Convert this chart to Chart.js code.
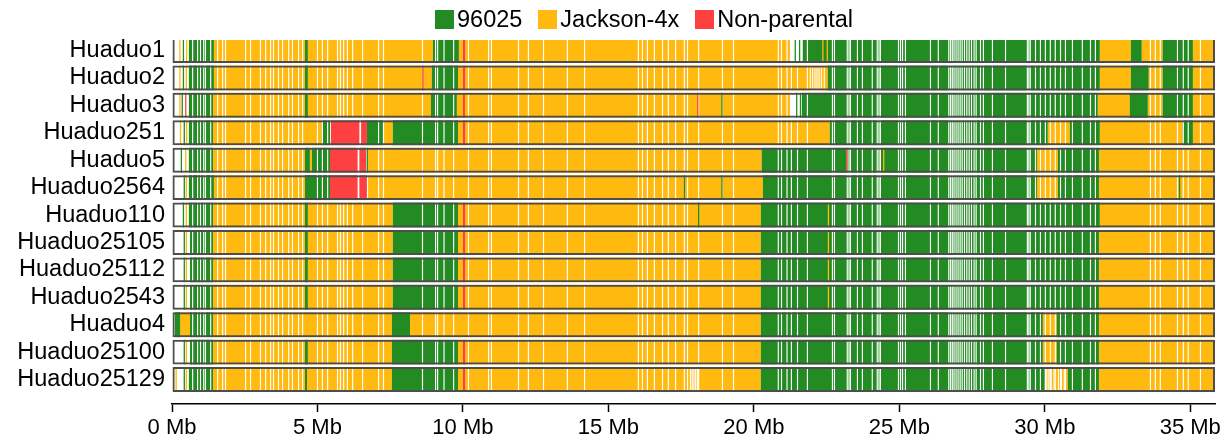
<!DOCTYPE html>
<html>
<head>
<meta charset="utf-8">
<title>Genotype map</title>
<script src="https://cdn.jsdelivr.net/npm/chart.js@4.4.1/dist/chart.umd.min.js"></script>
<style>
  html, body { margin: 0; padding: 0; background: #fff; }
  #wrap { position: relative; width: 1227px; height: 445px; }
  #legend {
    position: absolute; top: 6px; left: 435px;
    display: flex; align-items: center; white-space: nowrap;
    font-family: "Liberation Sans", Arial, sans-serif; font-size: 23.5px; color: #000;
  }
  .item { display: flex; align-items: center; margin-right: 16px; }
  .box { width: 19px; height: 19px; margin-right: 3px; }
</style>
</head>
<body>
<div id="wrap">
  <canvas id="chart" width="1227" height="445"></canvas>
  <div id="legend"></div>
</div>
<script>
// ---- data -------------------------------------------------------------
const samples = ['Huaduo1', 'Huaduo2', 'Huaduo3', 'Huaduo251', 'Huaduo5', 'Huaduo2564',
  'Huaduo110', 'Huaduo25105', 'Huaduo25112', 'Huaduo2543', 'Huaduo4', 'Huaduo25100', 'Huaduo25129'];
const genotypes = ['96025', 'Jackson-4x', 'Non-parental'];
const chromLength = 35.85;          // Mb
const tickMb = [0, 5, 10, 15, 20, 25, 30, 35];

// haplotype blocks: [line index, start Mb, end Mb]
const blocks96025 = [
  [0,0.58,1.44],[0,4.57,4.67],[0,8.97,9.86],[0,21.68,31.89],[0,32.96,33.33],[0,34.05,35.09],
  [1,0.58,1.44],[1,4.57,4.67],[1,8.93,9.83],[1,22.54,31.89],[1,32.96,33.57],[1,34.05,35.09],
  [2,0.58,1.41],[2,4.57,4.67],[2,8.90,9.79],[2,21.65,31.82],[2,32.92,33.54],[2,34.05,35.09],
  [3,0.58,1.41],[3,5.15,5.43],[3,6.70,7.25],[3,7.59,9.83],[3,22.61,30.10],[3,30.86,31.89],[3,34.74,35.09],
  [4,0.58,1.41],[4,4.57,4.74],[4,4.81,5.43],[4,20.27,29.73],[4,30.45,31.86],
  [5,0.58,1.44],[5,4.57,5.43],[5,20.31,29.73],[5,30.45,31.86],
  [6,0.58,1.41],[6,4.57,4.67],[6,7.59,9.83],[6,20.24,31.89],
  [7,0.62,1.41],[7,4.57,4.67],[7,7.59,9.83],[7,20.24,31.86],
  [8,0.62,1.41],[8,4.57,4.67],[8,7.59,9.83],[8,20.24,31.86],
  [9,0.62,1.41],[9,4.57,4.67],[9,7.59,9.83],[9,20.24,31.86],
  [10,0.10,0.28],[10,0.62,1.41],[10,7.56,8.18],[10,20.24,29.93],[10,30.41,31.86],
  [11,0.62,1.41],[11,4.57,4.67],[11,7.56,9.83],[11,20.24,29.93],[11,30.41,31.86],
  [12,0.58,1.41],[12,4.57,4.64],[12,7.56,9.83],[12,20.24,30.00],[12,30.79,31.86]
];
const blocksJackson = [
  [0,1.44,4.57],[0,4.67,8.97],[0,9.86,10.00],[0,10.08,21.24],[0,31.89,32.96],[0,33.33,34.05],[0,35.09,35.85],
  [1,1.44,4.57],[1,4.67,8.93],[1,9.83,10.00],[1,10.08,22.54],[1,31.89,32.96],[1,33.57,34.05],[1,35.09,35.85],
  [2,1.41,4.57],[2,4.67,8.90],[2,9.79,10.00],[2,10.07,21.24],[2,31.82,32.92],[2,33.54,34.05],[2,35.09,35.85],
  [3,1.41,5.15],[3,7.25,7.59],[3,9.83,10.00],[3,10.08,22.61],[3,30.10,30.86],[3,31.89,34.74],[3,35.09,35.85],
  [4,1.41,4.57],[4,4.74,4.81],[4,6.72,20.27],[4,29.73,30.45],[4,31.86,35.85],
  [5,1.44,4.57],[5,6.74,20.31],[5,29.73,30.45],[5,31.86,35.85],
  [6,1.41,4.57],[6,4.67,7.59],[6,9.83,10.00],[6,10.08,20.24],[6,31.89,35.85],
  [7,1.41,4.57],[7,4.67,7.59],[7,9.83,10.00],[7,10.08,20.24],[7,31.86,35.85],
  [8,1.41,4.57],[8,4.67,7.59],[8,9.83,10.00],[8,10.08,20.24],[8,31.86,35.85],
  [9,1.41,4.57],[9,4.67,7.59],[9,9.83,10.00],[9,10.08,20.24],[9,31.86,35.85],
  [10,0.28,0.62],[10,1.41,7.56],[10,8.18,20.24],[10,29.93,30.41],[10,31.86,35.85],
  [11,1.41,4.57],[11,4.67,7.56],[11,9.83,10.00],[11,10.08,20.24],[11,29.93,30.41],[11,31.86,35.85],
  [12,1.41,4.57],[12,4.64,7.56],[12,9.83,10.00],[12,10.08,20.24],[12,30.00,30.79],[12,31.86,35.85]
];
const blocksNonParental = [
  [0,10.00,10.08],[1,10.00,10.08],[2,10.00,10.07],
  [3,5.46,6.44],[3,6.50,6.70],[3,10.00,10.08],
  [4,5.43,6.38],[4,6.44,6.67],
  [5,5.43,6.38],[5,6.44,6.70],
  [6,10.00,10.08],[7,10.00,10.08],[8,10.00,10.08],[9,10.00,10.08],
  [11,10.00,10.08],[12,10.00,10.08]
];

// single-marker calls: [line index, position Mb]
const marks96025 = [
  [0,0.37],[1,0.37],[2,0.33],[3,0.40],[4,0.30],[5,0.40],[6,0.37],[7,0.40],[8,0.40],[9,0.40],[11,0.40],[12,0.40],
  [0,21.40],[0,21.55],[2,21.45],[2,21.58],[4,6.69],[5,17.59],[2,18.88],[5,18.88],[6,18.08],[5,34.61]
];
const marksJackson = [
  [0,0.25],[0,0.48],[1,0.25],[1,0.47],[2,0.25],[3,0.27],[3,0.48],[4,0.45],[5,0.47],[6,0.47],
  [7,0.47],[8,0.47],[9,0.47],[11,0.47],[12,0.12],[12,0.47],
  [0,22.35],[0,22.50],[6,22.54],[7,22.54],[8,22.54],[9,22.54],[4,24.44]
];
const marksNonParental = [[1,8.60],[2,0.45],[2,18.05],[4,23.18]];

// markers without a call in every line (Mb)
const missingAll = [
  0.69, 0.86, 0.96, 1.07, 1.13, 1.31,
  1.55, 1.72, 1.82, 2.51, 2.68, 3.02, 3.20, 3.37, 3.47, 3.64, 3.78, 3.99, 4.12, 4.33, 4.47,
  4.98, 5.15, 5.33, 5.67, 5.77, 5.88, 6.01, 6.19, 6.53, 7.08, 7.25, 8.59,
  9.04, 9.11, 9.33, 9.66, 10.17, 10.86, 10.96, 11.89, 12.23, 12.75, 13.57, 14.16,
  16.01, 16.15, 16.32, 16.56, 16.84, 17.04, 17.29, 17.59, 17.70, 18.08, 18.90, 19.28,
  20.82, 20.93, 21.12, 21.27, 21.48, 21.82, 22.68, 22.75, 23.19, 23.25, 23.30, 23.54, 23.71,
  24.05, 24.22, 24.28, 24.33, 24.95, 25.02, 25.09, 25.19, 26.05, 26.32,
  26.68, 26.74, 26.80, 26.86, 26.93, 27.00, 27.07, 27.14, 27.22, 27.30, 27.38, 27.46, 27.55, 27.62,
  27.77, 27.87, 28.18, 28.63, 29.38, 29.43, 29.48, 29.66, 29.83, 30.00, 30.17, 30.34, 30.52,
  30.69, 30.93, 31.27, 31.55, 31.72,
  33.61, 33.78, 33.95, 34.54, 34.74, 34.91, 35.33
];
// markers without a call in one line: [line index, position Mb]
const missingByLine = [
  [1,21.92],[1,22.00],[1,22.08],[1,22.15],[1,22.22],[1,22.30],[1,22.40],
  [3,5.44],
  [12,17.80],[12,17.86],[12,17.92],[12,17.98],[12,18.04],
  [12,30.05],[12,30.12],[12,30.20],[12,30.30],[12,30.45],[12,30.55],[12,30.65]
];

// ---- styling ----------------------------------------------------------
const COLORS = ['#228B22', '#FFB90F', '#FF4040'];
const FONT = '"Liberation Sans", Arial, sans-serif';
const MARK_W = 0.045;   // drawn width of a single marker, Mb
const GAP_W = 0.04;

const toBars = list => list.map(([r, s, e]) => ({ x: [s, e], y: r }));
const toLines = (list, w) => list.map(([r, p]) => ({ x: [p, p + w], y: r }));

const missingPoints = [];
samples.forEach((_, r) => missingAll.forEach(p => missingPoints.push([r, p])));
missingByLine.forEach(d => missingPoints.push(d));

const solid = (data, color, order) => ({
  data, backgroundColor: color, borderWidth: 0, order
});

const datasets = [
  solid(toBars(blocks96025), COLORS[0], 5),
  solid(toBars(blocksJackson), COLORS[1], 5),
  solid(toLines(missingPoints, GAP_W), '#ffffff', 4),
  solid(toBars(blocksNonParental), COLORS[2], 3),
  solid(toLines(marks96025, MARK_W), COLORS[0], 3),
  solid(toLines(marksJackson, MARK_W), COLORS[1], 3),
  solid(toLines(marksNonParental, MARK_W), COLORS[2], 3),
  {
    data: samples.map((_, r) => ({ x: [0, chromLength], y: r })),
    backgroundColor: 'rgba(0,0,0,0)',
    borderColor: '#4d4d4d', borderWidth: 2, borderSkipped: false, order: 1
  }
];

new Chart(document.getElementById('chart'), {
  type: 'bar',
  data: { datasets },
  options: {
    indexAxis: 'y',
    responsive: false,
    animation: false,
    events: [],
    layout: { padding: { top: 40, right: 12, bottom: 0, left: 0 } },
    datasets: { bar: { grouped: false, barPercentage: 0.91, categoryPercentage: 1 } },
    plugins: { legend: { display: false }, tooltip: { enabled: false } },
    scales: {
      x: {
        type: 'linear', min: 0, max: chromLength,
        afterBuildTicks: s => { s.ticks = tickMb.map(v => ({ value: v })); },
        afterFit: s => { s.height = 41; },
        grid: { display: true, drawOnChartArea: false, drawTicks: true, tickLength: 8, tickColor: '#000', tickWidth: 1.5 },
        border: { display: true, color: '#000', width: 1.5 },
        ticks: { color: '#000', font: { family: FONT, size: 22 }, padding: 3,
                 maxRotation: 0, autoSkip: false, callback: v => v + ' Mb' }
      },
      y: {
        type: 'linear', reverse: true, offset: false, min: -0.383, max: 12.892,
        afterBuildTicks: s => { s.ticks = samples.map((_, i) => ({ value: i })); },
        afterFit: s => { s.width = 172; },
        grid: { display: false, drawTicks: false, offset: false },
        border: { display: false },
        ticks: { color: '#000', font: { family: FONT, size: 23.5 }, padding: 7,
                 autoSkip: false, callback: v => samples[v] }
      }
    }
  }
});

// legend
const legend = document.getElementById('legend');
genotypes.forEach((name, i) => {
  const item = document.createElement('div');
  item.className = 'item';
  const box = document.createElement('span');
  box.className = 'box';
  box.style.background = COLORS[i];
  const label = document.createElement('span');
  label.textContent = name;
  item.appendChild(box);
  item.appendChild(label);
  legend.appendChild(item);
});
</script>
</body>
</html>
